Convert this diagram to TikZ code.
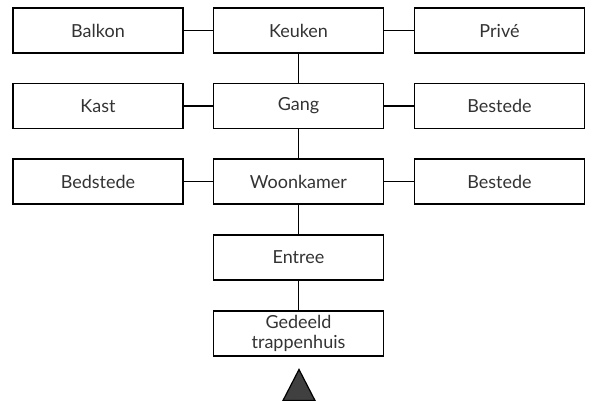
\documentclass[tikz,border=0pt]{standalone}
\usepackage{fontspec}
\setmainfont{Lato}
\begin{document}
\begin{tikzpicture}[x=1pt,y=-1pt,
  room/.style={draw=black, line width=1.6pt, minimum width=170pt, minimum height=45pt, inner sep=0pt, align=center, font=\fontsize{18}{20.5}\selectfont, text=black!80},
  link/.style={draw=black, line width=1.6pt}]
\useasboundingbox (0,0) rectangle (592,401);
\node[room] (balkon) at (98,30.5) {Balkon};
\node[room] (keuken) at (298.5,30.5) {Keuken};
\node[room] (prive) at (499.5,30.5) {Privé};
\node[room] (kast) at (98,106) {Kast};
\node[room] (gang) at (298.5,106) {Gang};
\node[room] (bestede1) at (499.5,106) {Bestede};
\node[room] (bedstede) at (98,181.5) {Bedstede};
\node[room] (woonkamer) at (298.5,181.5) {Woonkamer};
\node[room] (bestede2) at (499.5,181.5) {Bestede};
\node[room] (entree) at (298.5,257.5) {Entree};
\node[room] (trap) at (298.5,333.5) {Gedeeld\\trappenhuis};
\draw[link] (balkon) -- (keuken);
\draw[link] (keuken) -- (prive);
\draw[link] (kast) -- (gang);
\draw[link] (gang) -- (bestede1);
\draw[link] (bedstede) -- (woonkamer);
\draw[link] (woonkamer) -- (bestede2);
\draw[link] (keuken) -- (gang);
\draw[link] (gang) -- (woonkamer);
\draw[link] (woonkamer) -- (entree);
\draw[link] (entree) -- (trap);
\coordinate (apex) at (299,369.5);
\draw[line width=1.2pt, fill=black!75, line join=miter] (apex) -- (315,400.5) -- (283,400.5) -- cycle;
\end{tikzpicture}
\end{document}
